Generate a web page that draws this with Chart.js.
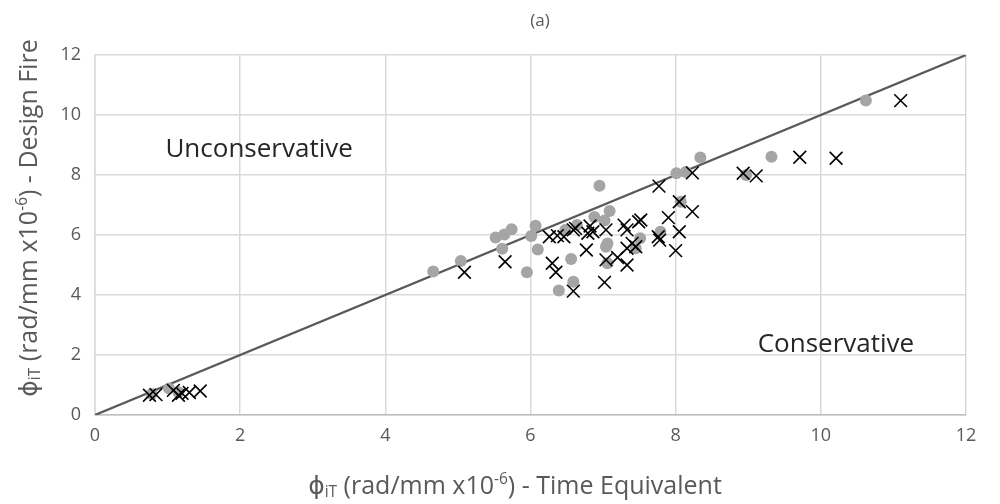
<!DOCTYPE html>
<html>
<head>
<meta charset="utf-8">
<script src="https://cdn.jsdelivr.net/npm/chart.js@4.4.0/dist/chart.umd.min.js"></script>
<style>
  body { margin: 0; background: #fff; }
  canvas { display: block; }
</style>
</head>
<body>
<canvas id="chart" width="1000" height="504"></canvas>
<script>
// grey dots
const dotX = [0.78, 1.02, 1.15, 4.66, 5.04, 5.52, 5.64, 5.74, 5.61, 5.95, 6.01, 6.07, 6.10, 6.39, 6.48, 6.56, 6.59, 6.64,
  6.88, 6.95, 7.02, 7.09, 7.04, 7.06, 7.06, 7.51, 7.45, 7.79, 8.07, 8.01, 8.14, 8.34, 8.97, 9.32, 10.62];
const dotY = [0.70, 0.88, 0.76, 4.78, 5.13, 5.92, 6.02, 6.19, 5.54, 4.76, 5.97, 6.31, 5.52, 4.15, 6.17, 5.20, 4.44, 6.33,
  6.60, 7.64, 6.48, 6.80, 5.61, 5.72, 5.06, 5.89, 5.56, 6.11, 7.11, 8.06, 8.10, 8.58, 8.00, 8.61, 10.48];

// black crosses
const crossX = [0.75, 0.84, 1.08, 1.15, 1.20, 1.30, 1.45, 5.09, 5.65, 6.26, 6.30, 6.35, 6.37, 6.46, 6.59, 6.59, 6.62,
  6.77, 6.79, 6.82, 6.86, 7.04, 7.04, 7.02, 7.20, 7.29, 7.33, 7.33, 7.33, 7.40, 7.45, 7.49, 7.52, 7.76, 7.78, 7.77,
  7.90, 8.00, 8.05, 8.05, 8.23, 8.23, 8.93, 9.11, 9.71, 10.21, 11.10];
const crossY = [0.66, 0.68, 0.82, 0.66, 0.72, 0.75, 0.80, 4.76, 5.11, 5.94, 5.06, 4.76, 5.98, 5.94, 6.17, 4.13, 6.22,
  5.50, 6.06, 6.30, 6.11, 6.17, 5.17, 4.42, 5.25, 6.33, 6.17, 5.56, 5.00, 5.72, 5.61, 6.44, 6.50, 5.94, 5.83, 7.63,
  6.58, 5.48, 6.11, 7.11, 6.78, 8.07, 8.06, 7.97, 8.59, 8.56, 10.48];

// 1:1 line
const lineX = [0, 12];
const lineY = [0, 12];

const axisTicks = [0, 2, 4, 6, 8, 10, 12];

const titleText = "(a)";
const yTitle = [["ϕ", ""], ["iT", "sub"], [" (rad/mm x10", ""], ["-6", "sup"], [") - Design Fire", ""]];
const xTitle = [["ϕ", ""], ["iT", "sub"], [" (rad/mm x10", ""], ["-6", "sup"], [") - Time Equivalent", ""]];
const regionLabels = [
  { text: "Unconservative", x: 0.97, y: 8.85 },
  { text: "Conservative", x: 9.13, y: 2.36 }
];

const FONT = "'Open Sans', 'DejaVu Sans', sans-serif";
const TEXT = "#595959";

const toPts = (xs, ys) => xs.map((x, i) => ({ x: x, y: ys[i] }));

// draws text made of pieces, some of them sub or superscript
function richWidth(ctx, parts, size) {
  let w = 0;
  parts.forEach(([t, kind]) => {
    ctx.font = (kind ? size * 0.62 : size) + "px " + FONT;
    w += ctx.measureText(t).width;
  });
  return w;
}
function drawRich(ctx, parts, size, cx, cy) {
  const total = richWidth(ctx, parts, size);
  let x = cx - total / 2;
  ctx.textBaseline = "middle";
  ctx.textAlign = "left";
  parts.forEach(([t, kind]) => {
    const s = kind ? size * 0.62 : size;
    ctx.font = s + "px " + FONT;
    let dy = 0;
    if (kind === "sub") dy = size * 0.22;
    if (kind === "sup") dy = -size * 0.3;
    ctx.fillText(t, x, cy + dy);
    x += ctx.measureText(t).width;
  });
}

const textPlugin = {
  id: "texts",
  afterDraw(chart) {
    const ctx = chart.ctx;
    const xs = chart.scales.x, ys = chart.scales.y;
    ctx.save();
    ctx.fillStyle = TEXT;
    ctx.font = "17px " + FONT;
    ctx.textAlign = "center";
    ctx.textBaseline = "middle";
    ctx.fillText(titleText, 540, 21);

    drawRich(ctx, xTitle, 25, 515, 487);

    ctx.save();
    ctx.translate(30, 218);
    ctx.rotate(-Math.PI / 2);
    drawRich(ctx, yTitle, 25, 0, 0);
    ctx.restore();

    ctx.fillStyle = "#262626";
    ctx.font = "26px " + FONT;
    ctx.textAlign = "left";
    regionLabels.forEach(l => {
      ctx.fillText(l.text, xs.getPixelForValue(l.x), ys.getPixelForValue(l.y));
    });
    ctx.restore();
  }
};

new Chart(document.getElementById("chart"), {
  type: "scatter",
  data: {
    datasets: [
      {
        label: "1:1",
        type: "line",
        data: toPts(lineX, lineY),
        borderColor: "#595959",
        borderWidth: 2.2,
        pointRadius: 0,
        fill: false,
        order: 3
      },
      {
        label: "Dots",
        data: toPts(dotX, dotY),
        pointStyle: "circle",
        pointRadius: 6,
        backgroundColor: "#a5a5a5",
        borderColor: "#a5a5a5",
        borderWidth: 0,
        order: 2
      },
      {
        label: "Crosses",
        data: toPts(crossX, crossY),
        pointStyle: "crossRot",
        pointRadius: 9,
        borderColor: "#000000",
        borderWidth: 1.6,
        order: 1
      }
    ]
  },
  options: {
    responsive: false,
    animation: false,
    layout: { padding: { top: 55, right: 34, bottom: 0, left: 0 } },
    plugins: {
      legend: { display: false },
      tooltip: { enabled: false }
    },
    scales: {
      x: {
        type: "linear",
        min: 0,
        max: 12,
        afterBuildTicks: s => { s.ticks = axisTicks.map(v => ({ value: v })); },
        afterFit: s => { s.height = 89; },
        grid: { color: "#d9d9d9", lineWidth: 1.5, drawTicks: false },
        border: { color: "#bfbfbf", width: 1.5 },
        ticks: { color: TEXT, font: { family: FONT, size: 18 }, padding: 10 }
      },
      y: {
        type: "linear",
        min: 0,
        max: 12,
        afterBuildTicks: s => { s.ticks = axisTicks.map(v => ({ value: v })); },
        afterFit: s => { s.width = 95; },
        grid: { color: "#d9d9d9", lineWidth: 1.5, drawTicks: false },
        border: { color: "#d9d9d9", width: 1.5 },
        ticks: { color: TEXT, font: { family: FONT, size: 18 }, padding: 14 }
      }
    }
  },
  plugins: [textPlugin]
});
</script>
</body>
</html>
